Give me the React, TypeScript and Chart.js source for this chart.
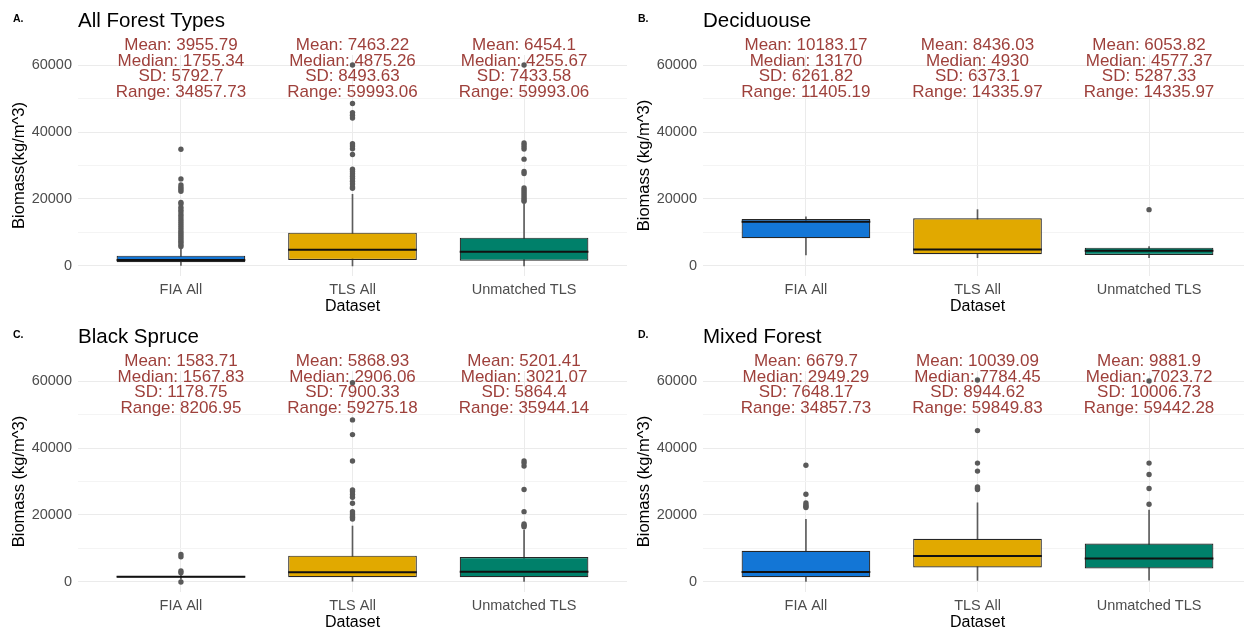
import { useEffect, useRef } from "react";
import { Chart, registerables } from "chart.js";

Chart.register(...registerables);

// ---------- shared ----------
const CATEGORIES = ["FIA All", "TLS All", "Unmatched TLS"];
const BOX_COLORS = ["#1376D6", "#E1A900", "#00806A"];
const Y_MIN = -3000;
const Y_MAX = 63000;
const Y_GRID_VALUES = [0, 10000, 20000, 30000, 40000, 50000, 60000];
const Y_TICK_LABELS = [0, 20000, 40000, 60000];
const STAT_Y = 60000;
const X_AXIS_TITLE = "Dataset";

// ---------- panel A : All Forest Types ----------
const A_LETTER = "A.";
const A_TITLE = "All Forest Types";
const A_YTITLE = "Biomass(kg/m^3)";
const A_MEAN = [3955.79, 7463.22, 6454.1];
const A_MEDIAN = [1755.34, 4875.26, 4255.67];
const A_SD = [5792.7, 8493.63, 7433.58];
const A_RANGE = [34857.73, 59993.06, 59993.06];
const A_Q1 = [1100, 1790, 1580];
const A_Q3 = [3070, 9940, 8450];
const A_LOW = [0, 7, 7];
const A_HIGH = [5200, 21400, 18500];
const A_OUT_FIA = [5800, 6300, 6900, 7400, 8000, 8600, 9200, 9800, 10400, 11000, 11600, 12200, 12800, 13400, 14000, 14700, 15400, 16200, 16800, 17500, 18500, 19000, 22300, 22900, 23500, 24200, 26000, 34858];
const A_OUT_TLS = [23200, 23600, 24500, 25300, 26100, 26800, 27500, 28200, 28900, 33300, 35000, 35800, 36500, 44200, 45000, 45800, 48500, 60000];
const A_OUT_UNM = [19300, 19800, 20300, 20900, 21500, 22100, 22700, 23300, 27600, 28200, 31900, 34900, 35500, 36100, 36700, 60000];

// ---------- panel B : Deciduouse ----------
const B_LETTER = "B.";
const B_TITLE = "Deciduouse";
const B_YTITLE = "Biomass (kg/m^3)";
const B_MEAN = [10183.17, 8436.03, 6053.82];
const B_MEDIAN = [13170, 4930, 4577.37];
const B_SD = [6261.82, 6373.1, 5287.33];
const B_RANGE = [11405.19, 14335.97, 14335.97];
const B_Q1 = [8270, 3490, 3280];
const B_Q3 = [14030, 14240, 5460];
const B_LOW = [3280, 2480, 2480];
const B_HIGH = [14685, 16816, 5760];
const B_OUT_FIA: number[] = [];
const B_OUT_TLS: number[] = [];
const B_OUT_UNM = [16816];

// ---------- panel C : Black Spruce ----------
const C_LETTER = "C.";
const C_TITLE = "Black Spruce";
const C_YTITLE = "Biomass (kg/m^3)";
const C_MEAN = [1583.71, 5868.93, 5201.41];
const C_MEDIAN = [1567.83, 2906.06, 3021.07];
const C_SD = [1178.75, 7900.33, 5864.4];
const C_RANGE = [8206.95, 59275.18, 35944.14];
const C_Q1 = [1350, 1420, 1420];
const C_Q3 = [1800, 7850, 7470];
const C_LOW = [800, 225, 160];
const C_HIGH = [2400, 16700, 15500];
const C_OUT_FIA = [0, 2750, 3300, 7500, 8207];
const C_OUT_TLS = [18800, 19300, 19700, 20300, 21000, 23500, 25300, 26100, 27000, 27500, 36100, 44000, 48400, 59500];
const C_OUT_UNM = [16500, 16900, 17300, 21000, 27600, 34600, 35500, 36100];

// ---------- panel D : Mixed Forest ----------
const D_LETTER = "D.";
const D_TITLE = "Mixed Forest";
const D_YTITLE = "Biomass (kg/m^3)";
const D_MEAN = [6679.7, 10039.09, 9881.9];
const D_MEDIAN = [2949.29, 7784.45, 7023.72];
const D_SD = [7648.17, 8944.62, 10006.73];
const D_RANGE = [34857.73, 59849.83, 59442.28];
const D_Q1 = [1420, 4300, 4000];
const D_Q3 = [9330, 12890, 11500];
const D_LOW = [0, 450, 560];
const D_HIGH = [18700, 23640, 21500];
const D_OUT_FIA = [22200, 22600, 23000, 23600, 26200, 34858];
const D_OUT_TLS = [27600, 28000, 28400, 33100, 35500, 45200, 60300];
const D_OUT_UNM = [23200, 27900, 32100, 35500, 60000];

// ---------- styling ----------
const FONT = '"Liberation Sans", Arial, sans-serif';
const TEXT_RED = "#9E403B";
const GRID_MAJOR = "#EBEBEB";
const GRID_MINOR = "#F4F4F4";
const BOX_WIDTH = 0.75;
const CANVAS_W = 640;
const CANVAS_H = 316;

type Panel = {
  letter: string;
  title: string;
  yTitle: string;
  mean: number[];
  median: number[];
  sd: number[];
  range: number[];
  q1: number[];
  q3: number[];
  low: number[];
  high: number[];
  outliers: number[][];
};

const PANEL_A: Panel = { letter: A_LETTER, title: A_TITLE, yTitle: A_YTITLE, mean: A_MEAN, median: A_MEDIAN, sd: A_SD, range: A_RANGE, q1: A_Q1, q3: A_Q3, low: A_LOW, high: A_HIGH, outliers: [A_OUT_FIA, A_OUT_TLS, A_OUT_UNM] };
const PANEL_B: Panel = { letter: B_LETTER, title: B_TITLE, yTitle: B_YTITLE, mean: B_MEAN, median: B_MEDIAN, sd: B_SD, range: B_RANGE, q1: B_Q1, q3: B_Q3, low: B_LOW, high: B_HIGH, outliers: [B_OUT_FIA, B_OUT_TLS, B_OUT_UNM] };
const PANEL_C: Panel = { letter: C_LETTER, title: C_TITLE, yTitle: C_YTITLE, mean: C_MEAN, median: C_MEDIAN, sd: C_SD, range: C_RANGE, q1: C_Q1, q3: C_Q3, low: C_LOW, high: C_HIGH, outliers: [C_OUT_FIA, C_OUT_TLS, C_OUT_UNM] };
const PANEL_D: Panel = { letter: D_LETTER, title: D_TITLE, yTitle: D_YTITLE, mean: D_MEAN, median: D_MEDIAN, sd: D_SD, range: D_RANGE, q1: D_Q1, q3: D_Q3, low: D_LOW, high: D_HIGH, outliers: [D_OUT_FIA, D_OUT_TLS, D_OUT_UNM] };

function makeTextPlugin(p: Panel) {
  return {
    id: "panelText",
    afterDraw(chart: any) {
      const { ctx, chartArea, scales } = chart;
      ctx.save();
      ctx.fillStyle = "#000";
      ctx.textAlign = "left";
      ctx.textBaseline = "alphabetic";
      ctx.font = `bold 10.5px ${FONT}`;
      ctx.fillText(p.letter, 13, 22);
      ctx.font = `20.5px ${FONT}`;
      ctx.fillText(p.title, chartArea.left, 27);

      ctx.font = `17px ${FONT}`;
      ctx.fillStyle = TEXT_RED;
      ctx.textAlign = "center";
      const baseY = scales.y.getPixelForValue(STAT_Y) - 15;
      CATEGORIES.forEach((_, i) => {
        const x = scales.x.getPixelForValue(i + 1);
        const lines = [
          `Mean: ${p.mean[i]}`,
          `Median: ${p.median[i]}`,
          `SD: ${p.sd[i]}`,
          `Range: ${p.range[i]}`,
        ];
        lines.forEach((t, k) => ctx.fillText(t, x, baseY + k * 15.6));
      });
      ctx.restore();
    },
  };
}

function buildConfig(p: Panel): any {
  const boxData = CATEGORIES.map((_, i) => ({ x: i + 1, y: [p.q1[i], p.q3[i]] }));
  const whiskerData = CATEGORIES.map((_, i) => ({ x: i + 1, y: [p.low[i], p.high[i]] }));
  const medianData: { x: number; y: number | null }[] = [];
  CATEGORIES.forEach((_, i) => {
    medianData.push({ x: i + 1 - BOX_WIDTH / 2, y: p.median[i] });
    medianData.push({ x: i + 1 + BOX_WIDTH / 2, y: p.median[i] });
    medianData.push({ x: i + 1.5, y: null });
  });
  const outlierData = p.outliers.flatMap((arr, i) => arr.map((v) => ({ x: i + 1, y: v })));

  return {
    type: "bar",
    data: {
      datasets: [
        {
          type: "bar",
          data: whiskerData,
          backgroundColor: "#5c5c5c",
          borderWidth: 0,
          barThickness: 1,
          grouped: false,
          order: 4,
        },
        {
          type: "bar",
          data: boxData,
          backgroundColor: BOX_COLORS,
          borderColor: "#262626",
          borderWidth: 1.2,
          borderSkipped: false,
          categoryPercentage: 1,
          barPercentage: BOX_WIDTH,
          grouped: false,
          order: 3,
        },
        {
          type: "line",
          data: medianData,
          borderColor: "#111111",
          borderWidth: 2,
          pointRadius: 0,
          spanGaps: false,
          fill: false,
          order: 2,
        },
        {
          type: "scatter",
          data: outlierData,
          backgroundColor: "#5a5a5a",
          borderWidth: 0,
          pointRadius: 2.7,
          order: 1,
        },
      ],
    },
    options: {
      responsive: false,
      animation: false,
      devicePixelRatio: 1,
      events: [],
      layout: { padding: { top: 55, right: 13, left: 0, bottom: 0 } },
      plugins: {
        legend: { display: false },
        tooltip: { enabled: false },
        title: { display: false },
      },
      scales: {
        x: {
          type: "linear",
          min: 0.4,
          max: 3.6,
          offset: false,
          afterBuildTicks: (s: any) => {
            s.ticks = CATEGORIES.map((_, i) => ({ value: i + 1 }));
          },
          afterFit: (s: any) => {
            s.height = 40;
          },
          ticks: {
            autoSkip: false,
            maxRotation: 0,
            padding: 5,
            color: "#4D4D4D",
            font: { family: FONT, size: 14.5 },
            callback: (_v: any, i: number) => CATEGORIES[i],
          },
          grid: { color: GRID_MAJOR, lineWidth: 1, drawTicks: false, offset: false },
          border: { display: false },
          title: {
            display: true,
            text: X_AXIS_TITLE,
            color: "#000",
            font: { family: FONT, size: 16 },
            padding: { top: 0, bottom: 0 },
          },
        },
        y: {
          type: "linear",
          min: Y_MIN,
          max: Y_MAX,
          afterBuildTicks: (s: any) => {
            s.ticks = Y_GRID_VALUES.map((v) => ({ value: v }));
          },
          afterFit: (s: any) => {
            s.width = 78;
          },
          ticks: {
            autoSkip: false,
            padding: 6,
            color: "#4D4D4D",
            font: { family: FONT, size: 14.5 },
            callback: (v: any) => (Y_TICK_LABELS.includes(v) ? String(v) : ""),
          },
          grid: {
            color: (c: any) => (c.tick && Y_TICK_LABELS.includes(c.tick.value) ? GRID_MAJOR : GRID_MINOR),
            lineWidth: 1,
            drawTicks: false,
          },
          border: { display: false },
          title: {
            display: true,
            text: p.yTitle,
            color: "#000",
            font: { family: FONT, size: 16.5 },
            padding: { top: 10, bottom: 0 },
          },
        },
      },
    },
    plugins: [makeTextPlugin(p)],
  };
}

function PanelChart({ panel, left, top }: { panel: Panel; left: number; top: number }) {
  const ref = useRef<HTMLCanvasElement>(null);
  useEffect(() => {
    const chart = new Chart(ref.current as HTMLCanvasElement, buildConfig(panel));
    return () => chart.destroy();
  }, [panel]);
  return (
    <canvas
      ref={ref}
      width={CANVAS_W}
      height={CANVAS_H}
      style={{ position: "absolute", left, top, width: CANVAS_W, height: CANVAS_H }}
    />
  );
}

export default function App() {
  return (
    <div
      style={{
        position: "fixed",
        left: 0,
        top: 0,
        width: 1244,
        height: 632,
        overflow: "hidden",
        background: "#ffffff",
      }}
    >
      <PanelChart panel={PANEL_A} left={0} top={0} />
      <PanelChart panel={PANEL_B} left={625} top={0} />
      <PanelChart panel={PANEL_C} left={0} top={316} />
      <PanelChart panel={PANEL_D} left={625} top={316} />
    </div>
  );
}
